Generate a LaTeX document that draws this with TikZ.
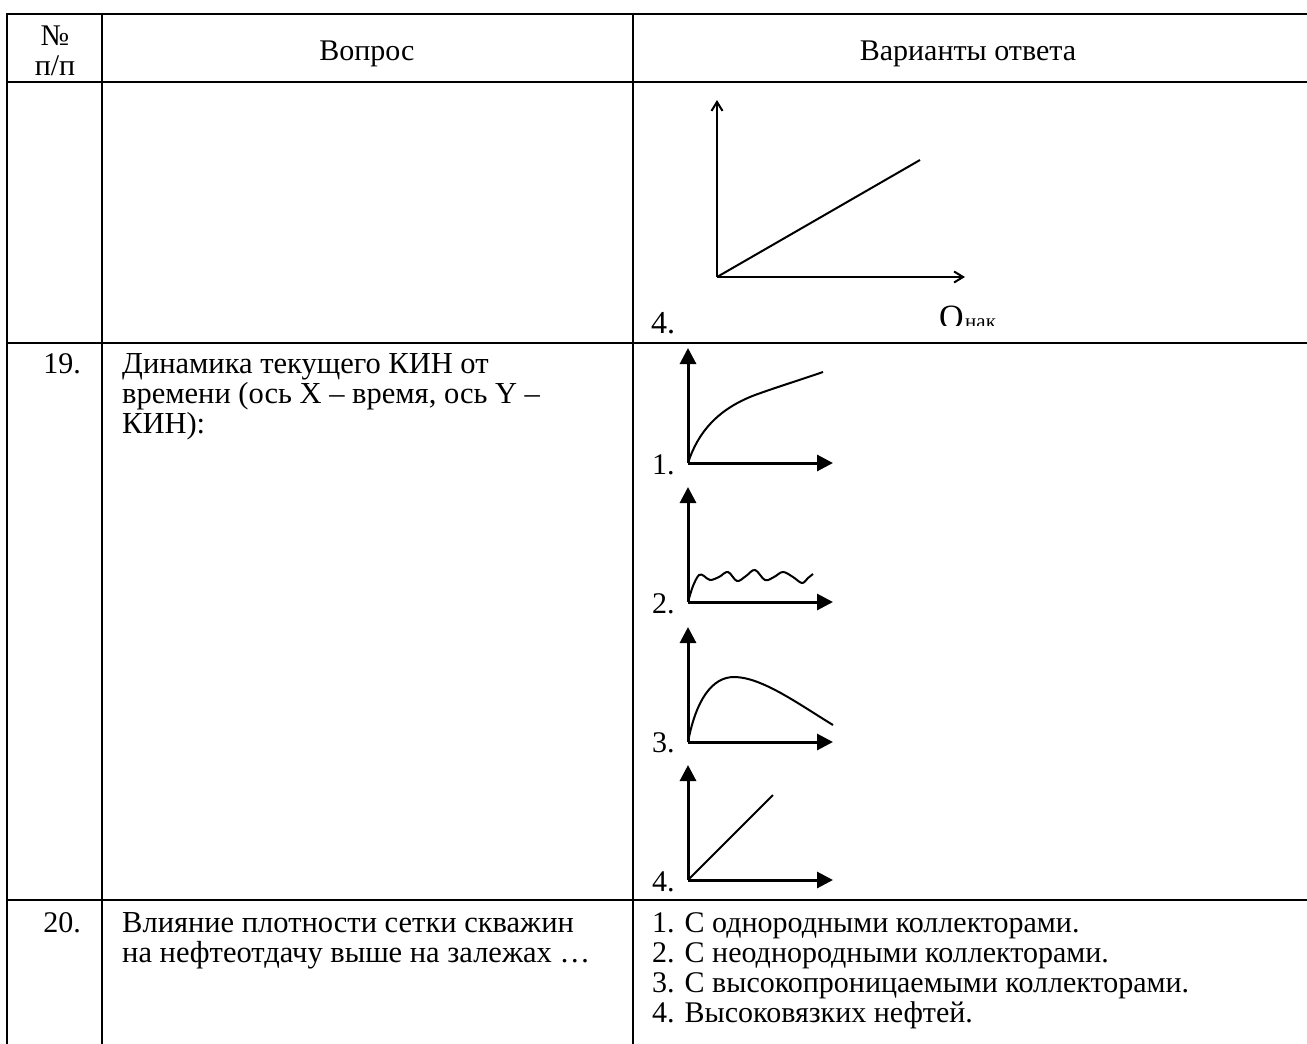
\documentclass[tikz,border=0pt]{standalone}
\usepackage{fontspec}
\setmainfont{Liberation Serif}
\usetikzlibrary{arrows.meta}
\begin{document}
\begin{tikzpicture}[x=1pt,y=-1pt,
  grid/.style={line width=2.6pt,line cap=rect},
  txt/.style={inner sep=0pt,anchor=base west,font=\fontsize{30}{30}\selectfont},
  qtxt/.style={inner sep=0pt,anchor=base west,font=\fontsize{30.5}{30}\selectfont},
  ctxt/.style={inner sep=0pt,anchor=base,font=\fontsize{30}{30}\selectfont},
  thinaxis/.style={line width=2pt,-{Straight Barb[length=9pt,width=11pt,line width=2pt]}},
  thickaxis/.style={line width=3pt,-{Triangle[length=16pt,width=16pt]}},
  curve/.style={line width=2pt}]
\useasboundingbox (0,0) rectangle (1307,1044);
% table grid
\draw[grid] (7,14) -- (1312,14);
\draw[grid] (7,82) -- (1312,82);
\draw[grid] (7,343) -- (1312,343);
\draw[grid] (7,900) -- (1312,900);
\draw[grid] (7,14) -- (7,1050);
\draw[grid] (102,14) -- (102,1050);
\draw[grid] (633,14) -- (633,1050);
% header
\node[ctxt] (hnum1) at (55,45) {№};
\node[ctxt] (hnum2) at (55,75) {п/п};
\node[ctxt] (hq) at (367,60) {Вопрос};
\node[ctxt] (ha) at (968,60) {Варианты ответа};
% row 18 continuation: graph
\coordinate (o18) at (717,277);
\draw[thinaxis] (o18) -- (717,100);
\draw[thinaxis] (o18) -- (965,277);
\draw[curve] (o18) -- (920,160);
\node[inner sep=0pt,anchor=base west,font=\fontsize{32}{32}\selectfont] (n18d) at (651,333) {4.};
\begin{scope}
\clip (900,290) rectangle (1100,325);
\node[inner sep=0pt,anchor=base west,font=\fontsize{34}{34}\selectfont] (qO) at (939,328) {О};
\node[inner sep=0pt,anchor=base west,font=\fontsize{21}{21}\selectfont] (qsub) at (965,328) {нак};
\end{scope}
% row 19
\node[ctxt] (n19) at (62,373) {19.};
\node[qtxt] (q19a) at (122,373) {Динамика текущего КИН от};
\node[qtxt] (q19b) at (122,403) {времени (ось X – время, ось Y –};
\node[qtxt] (q19c) at (122,433) {КИН):};
% graph 1
\coordinate (g1) at (688,463);
\draw[thickaxis] (g1) -- (688,348);
\draw[thickaxis] (g1) -- (833,463);
\draw[curve] (g1) .. controls (698,432) and (718,409) .. (755,395) .. controls (780,386) and (800,380) .. (823,372);
\node[txt] (a1) at (652,474) {1.};
% graph 2
\coordinate (g2) at (688,602);
\draw[thickaxis] (g2) -- (688,487);
\draw[thickaxis] (g2) -- (833,602);
\draw[curve] plot[smooth,tension=0.6] coordinates {(688,602) (693,586) (699,575) (704,576) (710,580) (719,577) (728,572) (737,581) (746,576) (755,570) (765,580) (774,577) (783,572) (793,577) (802,583) (808,578) (813,574)};
\node[txt] (a2) at (652,613) {2.};
% graph 3
\coordinate (g3) at (688,742);
\draw[thickaxis] (g3) -- (688,627);
\draw[thickaxis] (g3) -- (833,742);
\draw[curve] (g3) .. controls (696,700) and (712,677) .. (734,677) .. controls (762,677) and (800,705) .. (833,725);
\node[txt] (a3) at (652,752) {3.};
% graph 4
\coordinate (g4) at (688,880);
\draw[thickaxis] (g4) -- (688,765);
\draw[thickaxis] (g4) -- (833,880);
\draw[curve] (g4) -- (773,795);
\node[txt] (a4) at (652,891) {4.};
% row 20
\node[ctxt] (n20) at (62,932) {20.};
\node[qtxt] (q20a) at (122,932) {Влияние плотности сетки скважин};
\node[qtxt] (q20b) at (122,962) {на нефтеотдачу выше на залежах …};
\node[txt] (o1) at (652,932) {1. С однородными коллекторами.};
\node[txt] (o2) at (652,962) {2. С неоднородными коллекторами.};
\node[txt] (o3) at (652,992) {3. С высокопроницаемыми коллекторами.};
\node[txt] (o4) at (652,1022) {4. Высоковязких нефтей.};
\end{tikzpicture}
\end{document}
